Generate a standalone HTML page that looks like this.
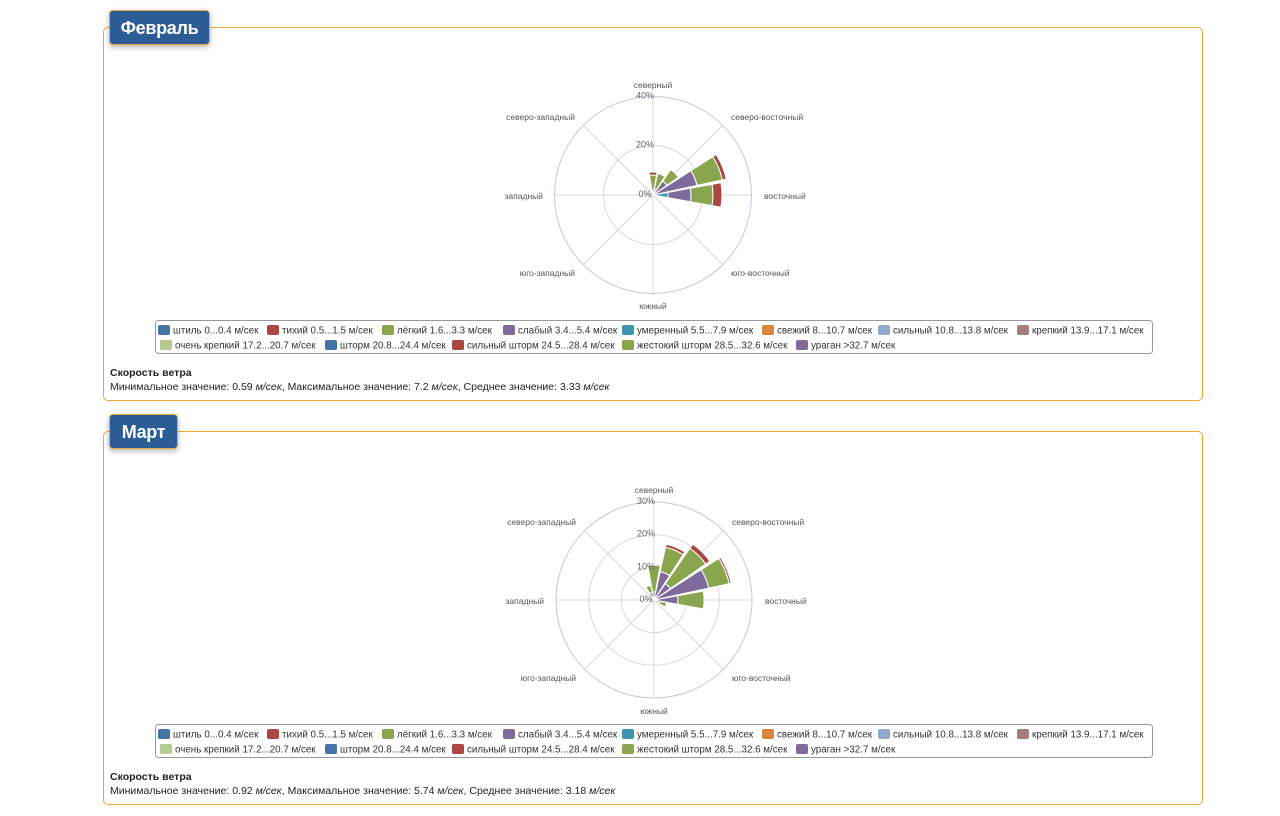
<!DOCTYPE html>
<html><head><meta charset="utf-8">
<style>
body{margin:0;width:1280px;height:816px;background:#fff;font-family:"Liberation Sans","DejaVu Sans",sans-serif;position:relative;overflow:hidden}
.panel{position:absolute;left:103px;width:1100px;height:374px;border:1px solid #f0a830;border-radius:5px;box-sizing:border-box}
.tab{position:absolute;left:109px;height:35px;background:#2b5c96;border:1px solid #e8a840;border-radius:4px;color:#fff;font-weight:bold;font-size:18px;line-height:35px;text-align:center;letter-spacing:-0.3px;white-space:nowrap;box-shadow:0 2px 6px rgba(0,0,0,.3);box-sizing:border-box}
.info{position:absolute;left:110px;font-size:10.5px;color:#222;line-height:14px}
svg{position:absolute;left:0;top:0}
</style></head><body>
<div class="panel" style="top:27px"></div>
<div class="tab" style="top:10px;width:101px">Февраль</div>
<div class="panel" style="top:431px"></div>
<div class="tab" style="top:414px;width:69px">Март</div>
<div class="info" style="top:366px"><b>Скорость ветра</b><br>Минимальное значение: 0.59 <i>м/сек</i>, Максимальное значение: 7.2 <i>м/сек</i>, Среднее значение: 3.33 <i>м/сек</i></div>
<div class="info" style="top:770px"><b>Скорость ветра</b><br>Минимальное значение: 0.92 <i>м/сек</i>, Максимальное значение: 5.74 <i>м/сек</i>, Среднее значение: 3.18 <i>м/сек</i></div>
<svg id="s" width="1280" height="816" xmlns="http://www.w3.org/2000/svg"></svg>
<script>
var C={b:'#4572A7',r:'#AA4643',g:'#89A54E',p:'#80699B',t:'#3D96AE'};
var h='';
function pt(cx,cy,r,a){var t=(a-90)*Math.PI/180;return [cx+r*Math.cos(t),cy+r*Math.sin(t)];}
function wedge(cx,cy,r0,r1,ang,col){var a0=ang-10.2,a1=ang+10.2;var p1=pt(cx,cy,r1,a0),p2=pt(cx,cy,r1,a1),p3=pt(cx,cy,r0,a1),p4=pt(cx,cy,r0,a0);
h+='<path d="M'+p4+' L'+p1+' A'+r1+' '+r1+' 0 0 1 '+p2+' L'+p3+' A'+r0+' '+r0+' 0 0 0 '+p4+'Z" fill="'+col+'" stroke="#fff" stroke-width="1"/>';}
function chart(cx,cy,R,ticks,bars){
 h+='<g stroke="#ccd4e0" fill="none">';
 for(var i=0;i<8;i++){var p=pt(cx,cy,R,i*45);h+='<line x1="'+cx+'" y1="'+cy+'" x2="'+p[0]+'" y2="'+p[1]+'" stroke="#d8d8d8"/>';}
 ticks.forEach(function(t){h+='<circle cx="'+cx+'" cy="'+cy+'" r="'+t[0]+'" stroke="'+(t[0]==R?'#c0cada':'#d8d8d8')+'"/>';});
 h+='</g>';
 bars.forEach(function(b){var r=0;for(var k=1;k<b.length;k+=2){wedge(cx,cy,r,b[k+1],b[0],b[k]);r=b[k+1];}});
 ticks.forEach(function(t){h+='<text x="'+(cx-8)+'" y="'+(cy-t[0]+2)+'" text-anchor="middle" font-size="9" fill="#666">'+t[1]+'</text>';});
 var L=[['северный',cx,cy-107,'middle'],['северо-западный',cx-78,cy-75,'end'],['северо-восточный',cx+78,cy-75,'start'],['западный',cx-110,cy+4,'end'],['восточный',cx+111,cy+4,'start'],['юго-западный',cx-78,cy+81,'end'],['юго-восточный',cx+78,cy+81,'start'],['южный',cx,cy+114,'middle']];
 L.forEach(function(l){h+='<text x="'+l[1]+'" y="'+l[2]+'" text-anchor="'+l[3]+'" font-size="8.5" fill="#555">'+l[0]+'</text>';});
}
function legend(y){
 h+='<rect x="155.5" y="'+(y+0.5)+'" width="997" height="33" rx="3" fill="#fff" stroke="#999"/>';
 var it=[[173,'штиль 0...0.4 м/сек','#4572A7',0],[282,'тихий 0.5...1.5 м/сек','#AA4643',0],[397,'лёгкий 1.6...3.3 м/сек','#89A54E',0],[518,'слабый 3.4...5.4 м/сек','#80699B',0],[637,'умеренный 5.5...7.9 м/сек','#3D96AE',0],[777,'свежий 8...10.7 м/сек','#DB843D',0],[893,'сильный 10.8...13.8 м/сек','#92A8CD',0],[1032,'крепкий 13.9...17.1 м/сек','#A47D7C',0],
 [175,'очень крепкий 17.2...20.7 м/сек','#B5CA92',1],[340,'шторм 20.8...24.4 м/сек','#4572A7',1],[467,'сильный шторм 24.5...28.4 м/сек','#AA4643',1],[637,'жестокий шторм 28.5...32.6 м/сек','#89A54E',1],[811,'ураган >32.7 м/сек','#80699B',1]];
 it.forEach(function(i){var yy=y+5+i[3]*15;h+='<rect x="'+(i[0]-15)+'" y="'+yy+'" width="12" height="10" rx="2" fill="'+i[2]+'"/><text x="'+i[0]+'" y="'+(yy+8.5)+'" font-size="9.8" fill="#333">'+i[1]+'</text>';});
}
chart(653,195,98.5,[[98.5,'40%'],[49.5,'20%'],[0,'0%']],[
 [90,C.t,15,C.p,38,C.g,60,C.r,69],
 [67.5,C.p,45,C.g,71,C.r,75],
 [45,C.p,17,C.g,31],
 [22.5,C.p,6,C.g,22],
 [0,C.p,4,C.g,20,C.r,23],
 [112.5,C.p,3],[337.5,C.p,3]
]);
legend(320);
chart(654,600,98,[[98,'30%'],[65.3,'20%'],[32.7,'10%'],[0,'0%']],[
 [0,C.p,8,C.g,35],
 [22.5,C.p,29,C.g,54,C.r,57],
 [45,C.p,20,C.g,63,C.r,68],
 [67.5,C.p,56,C.g,77,C.r,79],
 [90,C.p,24,C.g,50],
 [112.5,C.p,6,C.g,13],
 [337.5,C.p,8,C.g,15]
]);
legend(724);
document.getElementById('s').innerHTML=h;
</script>
</body></html>
